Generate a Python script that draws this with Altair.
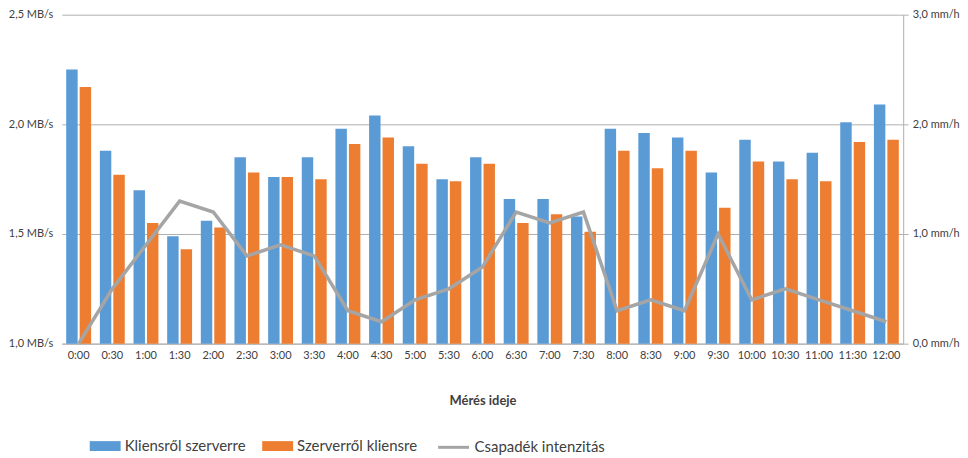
import altair as alt
import pandas as pd

times = ["0:00", "0:30", "1:00", "1:30", "2:00", "2:30", "3:00", "3:30", "4:00", "4:30",
         "5:00", "5:30", "6:00", "6:30", "7:00", "7:30", "8:00", "8:30", "9:00", "9:30",
         "10:00", "10:30", "11:00", "11:30", "12:00"]
kliens = [2.25, 1.88, 1.70, 1.49, 1.56, 1.85, 1.76, 1.85, 1.98, 2.04,
          1.90, 1.75, 1.85, 1.66, 1.66, 1.58, 1.98, 1.96, 1.94, 1.78,
          1.93, 1.83, 1.87, 2.01, 2.09]
szerver = [2.17, 1.77, 1.55, 1.43, 1.53, 1.78, 1.76, 1.75, 1.91, 1.94,
           1.82, 1.74, 1.82, 1.55, 1.59, 1.51, 1.88, 1.80, 1.88, 1.62,
           1.83, 1.75, 1.74, 1.92, 1.93]
csapadek = [0.0, 0.5, 0.9, 1.3, 1.2, 0.8, 0.9, 0.8, 0.3, 0.2,
            0.4, 0.5, 0.7, 1.2, 1.1, 1.2, 0.3, 0.4, 0.3, 1.0,
            0.4, 0.5, 0.4, 0.3, 0.2]

s1 = "Kliensről szerverre"
s2 = "Szerverről kliensre"
s3 = "Csapadék intenzitás"

bars_df = pd.DataFrame(
    [{"time": t, "series": s1, "value": v} for t, v in zip(times, kliens)]
    + [{"time": t, "series": s2, "value": v} for t, v in zip(times, szerver)]
)
line_df = pd.DataFrame({"time": times, "rain": csapadek, "name": s3})

FONT = "Lato"
GRID = "#b0b0b0"

x_enc = alt.X(
    "time:N", sort=times, title="Mérés ideje",
    scale=alt.Scale(paddingInner=0.26, paddingOuter=0.13),
    axis=alt.Axis(labelAngle=0, ticks=False, domainColor=GRID, labelFontSize=11,
                  labelColor="#404040", labelPadding=6, titleFontSize=13,
                  titleFontWeight="bold", titleColor="#404040", titlePadding=34),
)

bars = alt.Chart(bars_df).mark_bar().encode(
    x=x_enc,
    xOffset=alt.XOffset("series:N", sort=[s1, s2], scale=alt.Scale(paddingInner=0.15)),
    y=alt.Y("value:Q", scale=alt.Scale(domain=[1.0, 2.5], zero=False, nice=False),
            axis=alt.Axis(values=[1.0, 1.5, 2.0, 2.5], title=None, domain=False, ticks=False,
                          gridColor=GRID, labelFontSize=11, labelColor="#404040", labelPadding=9,
                          labelExpr="replace(format(datum.value, '.1f'), '.', ',') + ' MB/s'")),
    y2=alt.datum(1.0),
    color=alt.Color("series:N",
                    scale=alt.Scale(domain=[s1, s2], range=["#5B9BD5", "#ED7D31"]),
                    legend=alt.Legend(orient="none", legendX=28, legendY=417,
                                      direction="horizontal", title=None,
                                      symbolType="M-1,-0.32H1V0.32H-1Z", symbolSize=961,
                                      symbolStrokeWidth=0, labelFontSize=15,
                                      labelColor="#404040", labelOffset=4,
                                      columnPadding=16, gridAlign="all")),
)

line = alt.Chart(line_df).mark_line(strokeWidth=3.5).encode(
    x=alt.X("time:N", sort=times),
    y=alt.Y("rain:Q", scale=alt.Scale(domain=[0, 3], nice=False),
            axis=alt.Axis(orient="right", values=[0, 1, 2, 3], title=None, grid=False,
                          domainColor=GRID, tickColor=GRID, tickSize=5, labelFontSize=11,
                          labelColor="#404040", labelPadding=4,
                          labelExpr="replace(format(datum.value, '.1f'), '.', ',') + ' mm/h'")),
    stroke=alt.Stroke("name:N", scale=alt.Scale(domain=[s3], range=["#A5A5A5"]),
                      legend=alt.Legend(orient="none", legendX=376, legendY=417, title=None,
                                        symbolType="stroke", symbolSize=961,
                                        symbolStrokeWidth=3, labelFontSize=15,
                                        labelColor="#404040", labelOffset=4)),
)

chart = alt.layer(bars, line).resolve_scale(y="independent").properties(
    width=844, height=330, padding=0
).configure(font=FONT).configure_view(stroke=None)

chart.save("out.html", embed_options={"renderer": "svg", "actions": False})
